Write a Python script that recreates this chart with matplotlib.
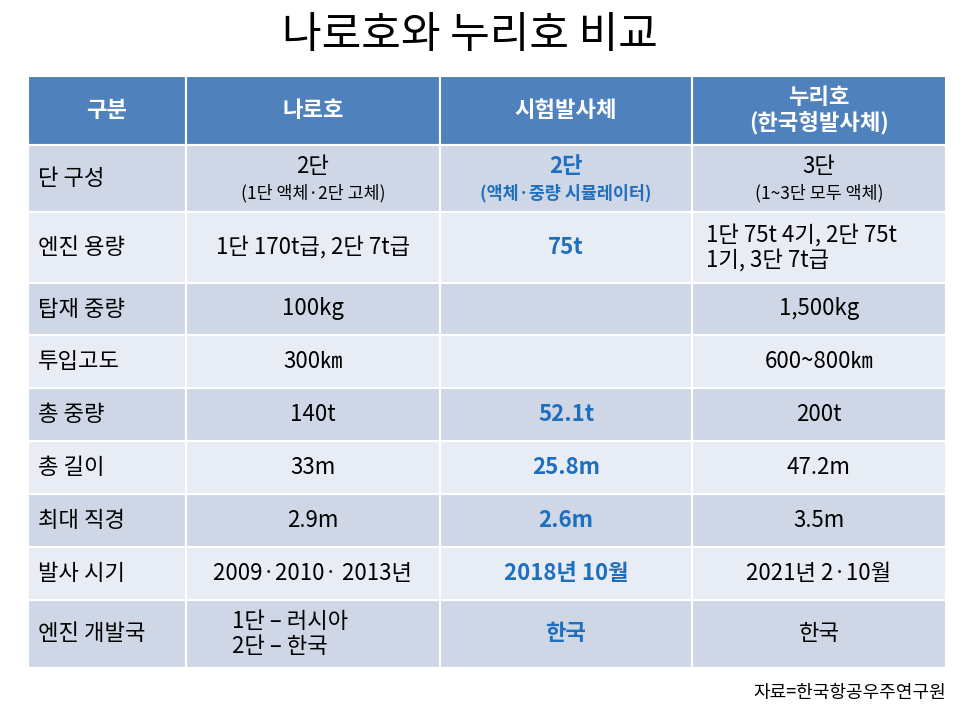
import matplotlib.pyplot as plt
from matplotlib.patches import Rectangle

plt.rcParams['font.family'] = ['Noto Sans CJK KR', 'DejaVu Sans']

title = '나로호와 누리호 비교'
headers = ['구분', '나로호', '시험발사체', '누리호\n(한국형발사체)']
row_labels = ['단 구성', '엔진 용량', '탑재 중량', '투입고도', '총 중량', '총 길이',
              '최대 직경', '발사 시기', '엔진 개발국']
naro = ['2단', '1단 170t급, 2단 7t급', '100kg', '300㎞', '140t', '33m', '2.9m',
        '2009·2010· 2013년', '1단 – 러시아\n2단 – 한국']
naro_sub = ['(1단 액체·2단 고체)', '', '', '', '', '', '', '', '']
test = ['2단', '75t', '', '', '52.1t', '25.8m', '2.6m', '2018년 10월', '한국']
test_sub = ['(액체·중량 시뮬레이터)', '', '', '', '', '', '', '', '']
nuri = ['3단', '1단 75t 4기, 2단 75t\n1기, 3단 7t급', '1,500kg', '600~800㎞', '200t',
        '47.2m', '3.5m', '2021년 2·10월', '한국']
nuri_sub = ['(1~3단 모두 액체)', '', '', '', '', '', '', '', '']
source = '자료=한국항공우주연구원'

cols = [28, 186, 440, 692, 946]
rows = [76, 145, 212, 283, 335, 388, 441, 494, 547, 600, 668]

fig = plt.figure(figsize=(9.7, 7.15), dpi=100)
ax = fig.add_axes([0, 0, 1, 1])
ax.set_xlim(0, 970)
ax.set_ylim(715, 0)
ax.axis('off')

ax.text(470, 36, title, ha='center', va='center', fontsize=31)

def cell(x0, y0, x1, y1, color):
    ax.add_patch(Rectangle((x0, y0), x1 - x0, y1 - y0, facecolor=color,
                           edgecolor='white', linewidth=1.5))

for j in range(4):
    cell(cols[j], rows[0], cols[j + 1], rows[1], '#4F81BD')
    cx = (cols[j] + cols[j + 1]) / 2
    ax.text(cx, (rows[0] + rows[1]) / 2, headers[j], ha='center', va='center',
            color='white', fontsize=16, fontweight='bold', linespacing=1.1)

blue = '#1F6FC0'
for i in range(len(row_labels)):
    y0, y1 = rows[i + 1], rows[i + 2]
    cy = (y0 + y1) / 2
    color = '#CFD7E6' if i % 2 == 0 else '#E8ECF4'
    for j in range(4):
        cell(cols[j], y0, cols[j + 1], y1, color)
    ax.text(38, cy, row_labels[i], ha='left', va='center', fontsize=16)
    for j, (main, sub, kw) in enumerate([(naro, naro_sub, {}),
                                         (test, test_sub, {'color': blue, 'fontweight': 'bold'}),
                                         (nuri, nuri_sub, {})]):
        cx = (cols[j + 1] + cols[j + 2]) / 2
        txt = main[i]
        if sub[i]:
            ax.text(cx, cy - 12, txt, ha='center', va='center', fontsize=16, **kw)
            ax.text(cx, cy + 15, sub[i], ha='center', va='center', fontsize=12.5, **kw)
        elif '\n' in txt:
            x = cols[j + 1] + (46 if j == 0 else 14)
            ax.text(x, cy, txt, ha='left', va='center', fontsize=16,
                    linespacing=1.1, **kw)
        else:
            ax.text(cx, cy, txt, ha='center', va='center', fontsize=16, **kw)

ax.text(946, 693, source, ha='right', va='center', fontsize=13)

fig.savefig('out.png', dpi=100, facecolor='white')
